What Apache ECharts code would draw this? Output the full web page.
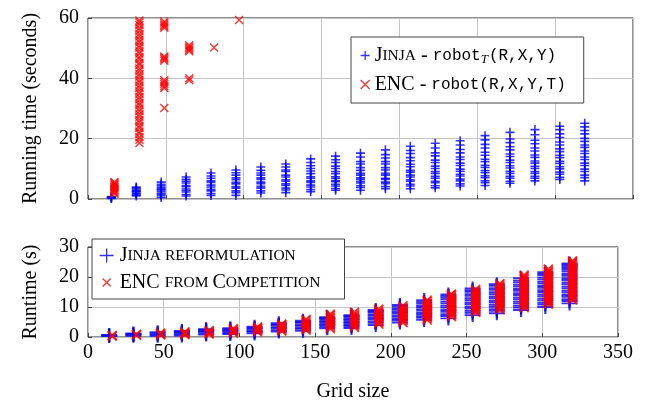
<!DOCTYPE html>
<html><head><meta charset="utf-8">
<script src="https://cdn.jsdelivr.net/npm/echarts@6/dist/echarts.min.js"></script>
<style>html,body{margin:0;padding:0;background:#fff}#c{width:649px;height:407px}</style>
</head><body><div id="c"></div>
<script>
// ---- data ----
const gridSizes = [16,32,48,64,80,96,112,128,144,160,176,192,208,224,240,256,272,288,304,320];
const xTicks = [0,50,100,150,200,250,300,350];
const topYTicks = [0,20,40,60];
const bottomYTicks = [0,10,20,30];

const topJinja = [
 [0.2,0.35,0.5,0.6,0.8],
 [1.0,1.3,1.7,2.0,2.4,2.6,2.9,3.3,3.7,4.0],
 [0.5,1.1,1.6,2.0,2.6,3.1,3.4,3.9,4.4,4.9,5.6],
 [1.0,1.5,2.3,2.8,3.3,4.1,4.5,5.3,5.9,6.5,7.3],
 [1.2,1.8,2.7,3.2,4.0,4.6,5.5,6.0,6.9,7.6,8.6],
 [1.2,2.1,2.7,3.6,4.1,5.0,5.5,6.4,7.0,7.9,8.7,9.6],
 [2.0,2.7,3.6,4.2,5.1,5.6,6.5,7.0,7.9,8.6,9.5,10.6],
 [2.1,3.0,3.6,4.5,5.0,5.9,6.4,7.3,7.9,9.1,9.6,10.6,11.6],
 [2.4,3.1,4.0,4.6,5.5,6.0,6.9,7.4,8.4,9.3,10.1,11.0,12.1,13.3],
 [2.9,3.5,4.3,4.9,5.7,6.1,6.9,7.4,8.4,9.1,10.1,10.9,12.1,13.0,14.2],
 [2.9,3.8,4.4,5.3,5.8,6.5,7.0,7.9,8.5,9.5,10.4,11.6,12.4,13.9,15.2],
 [3.4,4.1,5.1,5.6,6.5,6.9,7.9,8.5,9.6,10.4,11.6,12.4,13.6,14.7,16.3],
 [3.4,4.3,4.9,5.9,6.4,7.3,7.9,8.9,9.5,10.7,11.5,12.7,13.7,15.1,16.1,17.5],
 [3.7,4.4,5.4,5.9,6.9,7.5,8.5,9.1,10.1,10.9,12.1,12.9,14.3,15.3,16.9,18.5],
 [4.3,5.0,6.0,6.6,7.6,8.2,9.2,9.9,11.1,11.9,13.1,13.9,15.3,16.4,17.9,19.3],
 [4.5,5.4,6.0,7.1,7.7,8.7,9.4,10.5,11.2,12.4,13.2,14.5,15.5,16.9,18.1,19.6,21.0],
 [5.2,5.9,6.9,7.5,8.5,9.2,10.3,11.0,12.1,12.9,14.1,14.9,16.3,17.3,18.7,19.9,22.1],
 [6.0,6.9,7.5,8.5,9.1,10.1,10.8,11.9,12.6,13.8,14.6,15.9,16.9,18.3,19.5,21.3,23.0],
 [6.5,7.2,8.2,8.9,10.0,10.7,11.8,12.5,13.7,14.5,15.7,16.6,17.9,18.9,20.4,21.6,23.0,24.1],
 [6.0,7.1,7.9,9.1,9.9,11.1,11.9,13.1,13.9,15.1,15.9,17.1,17.9,19.1,20.1,21.6,22.7,23.9,25.1]
];
const topEnc = [
 [1.7,2.1,2.5,2.9,3.3,3.7,4.1,4.5,4.9,5.3,5.6],
 [18.6,19.6,20.5,21.6,22.4,23.5,24.3,25.4,26.2,27.3,28.1,29.2,30.0,31.1,31.9,33.0,33.8,34.9,35.7,36.8,37.6,38.7,39.5,40.6,41.4,42.5,43.3,44.4,45.2,46.3,47.1,48.2,49.0,50.1,50.9,52.0,52.8,53.9,54.7,55.8,56.6,57.7,58.5,59.2],
 [30.2,36.8,37.4,38.1,38.8,39.4,45.8,46.3,46.8,47.2,56.8,57.3,57.8,58.3,58.8],
 [39.4,40.0,49.0,49.5,50.0,50.5,51.0],
 [50.2],
 [59.3],
 [],[],[],[],[],[],[],[],[],[],[],[],[],[]
];
const bottomJinja = [
 [0.3,0.5,0.7],
 [0.4,0.7,1.0,1.2],
 [0.4,0.8,1.2,1.6],
 [0.5,0.9,1.4,1.7,2.0],
 [0.8,1.2,1.7,2.0,2.4,2.6],
 [1.0,1.4,1.9,2.2,2.6,2.9],
 [1.2,1.7,2.0,2.6,3.0,3.4],
 [1.8,2.3,2.9,3.3,3.9,4.2,4.6],
 [2.1,2.7,3.1,3.7,4.1,4.7,5.0,5.4],
 [2.9,3.4,4.0,4.4,5.0,5.4,6.0,6.3,6.6],
 [3.0,3.6,4.0,4.6,5.0,5.6,6.0,6.6,7.0,7.3],
 [4.0,4.7,5.2,5.9,6.4,7.1,7.6,8.3,8.6,9.0],
 [4.8,5.5,6.0,6.7,7.2,7.9,8.4,9.1,9.6,10.3,10.7],
 [5.7,6.4,6.9,7.6,8.1,8.8,9.3,10.0,10.5,11.2,11.7,12.3],
 [6.2,7.0,7.6,8.4,9.0,9.8,10.4,11.2,11.8,12.6,13.2,13.7,14.2],
 [7.3,8.1,8.7,9.5,10.1,10.9,11.5,12.3,12.9,13.7,14.3,15.1,15.6,16.2],
 [7.9,8.7,9.3,10.1,10.7,11.5,12.1,12.9,13.5,14.3,14.9,15.7,16.3,17.1,17.6],
 [9.0,9.8,10.4,11.2,11.8,12.6,13.2,14.0,14.6,15.4,16.0,16.8,17.4,18.2,18.8,19.6],
 [10.0,10.8,11.4,12.2,12.8,13.6,14.2,15.0,15.6,16.4,17.0,17.8,18.4,19.2,19.8,20.6,21.1,21.6],
 [11.2,12.0,12.6,13.4,14.0,14.8,15.4,16.2,16.8,17.6,18.2,19.0,19.6,20.4,21.0,21.8,22.4,23.0,23.6,24.1,24.5]
];
const bottomEnc = [
 [0.3,0.5],
 [0.6,0.9],
 [0.7,1.0,1.3],
 [0.8,1.1,1.4,1.7],
 [1.0,1.4,1.8,2.1],
 [1.4,1.8,2.3,2.8],
 [1.7,2.2,2.7,3.0,3.4],
 [2.0,2.5,3.0,3.5,4.0,4.3],
 [2.3,2.8,3.3,3.8,4.3,4.8,5.4,5.9],
 [2.8,3.3,3.9,4.4,5.0,5.5,6.1,6.6,7.2,7.6],
 [3.2,3.8,4.3,4.9,5.4,6.0,6.5,7.1,7.6,8.3],
 [4.3,4.9,5.4,6.0,6.5,7.1,7.6,8.2,8.7,9.3],
 [4.8,5.4,5.9,6.5,7.0,7.6,8.1,8.7,9.2,9.8,10.4],
 [5.7,6.3,6.8,7.4,7.9,8.5,9.0,9.6,10.1,10.7,11.2,11.8,12.3],
 [6.8,7.4,7.9,8.5,9.0,9.6,10.1,10.7,11.2,11.8,12.3,12.9,13.4,14.0,14.3],
 [8.2,8.8,9.3,9.9,10.4,11.0,11.5,12.1,12.6,13.2,13.7,14.3,14.8,15.4,15.9],
 [9.1,9.7,10.2,10.8,11.3,11.9,12.4,13.0,13.5,14.1,14.6,15.2,15.7,16.3,16.8,17.4,17.8],
 [9.8,10.4,10.9,11.5,12.0,12.6,13.1,13.7,14.2,14.8,15.3,15.9,16.4,17.0,17.5,18.1,18.6,19.2,19.7,20.2,20.6],
 [11.0,11.6,12.1,12.7,13.2,13.8,14.3,14.9,15.4,16.0,16.5,17.1,17.6,18.2,18.7,19.3,19.8,20.4,20.9,21.5,22.0,22.6],
 [12.4,13.0,13.5,14.1,14.6,15.2,15.7,16.3,16.8,17.4,17.9,18.5,19.0,19.6,20.1,20.7,21.2,21.8,22.3,22.9,23.4,24.0,24.5,25.0,25.4]
];

// ---- chart ----
const SERIF = '"Liberation Serif", "DejaVu Serif", serif';
const MONO = '"Liberation Mono", "DejaVu Sans Mono", monospace';
const PLUS = 'path://M0,5L10,5M5,0L5,10';
const CROSS = 'path://M0,0L10,10M10,0L0,10';
// legend icon for the cross in the wide bottom legend slot (padded bounding box)
const CROSS_PAD = 'path://M0,0L0,0M16,14L16,14M4,3L12,11M12,3L4,11';
const BLUE = '#0000ff', RED = '#ff0000';

function pts(cols, dx) {
  const out = [];
  cols.forEach((col, i) => col.forEach(v => out.push([gridSizes[i] + dx, v])));
  return out;
}

const axisTxt = { fontFamily: SERIF, fontSize: 20, color: '#000' };
const split = { show: true, lineStyle: { color: '#c4c4c4', width: 1 } };
const tick = { show: true, inside: true, length: 4, lineStyle: { color: '#444' } };

const rich = {
  big: { fontFamily: SERIF, fontSize: 20, color: '#000' },
  sc: { fontFamily: SERIF, fontSize: 15.5, color: '#000' },
  tt: { fontFamily: MONO, fontSize: 16, color: '#000' },
  sub: { fontFamily: SERIF, fontSize: 13, fontStyle: 'italic', color: '#000', padding: [8, 1, 0, 0] }
};

const labels = {
  'topJ': '{big|J}{sc|INJA}{big| - }{tt|robot}{sub|T}{tt|(R,X,Y)}',
  'topE': '{big|ENC - }{tt|robot(R,X,Y,T)}',
  'botJ': '{big|J}{sc|INJA REFORMULATION}',
  'botE': '{big|ENC }{sc|FROM }{big|C}{sc|OMPETITION}'
};

const chart = echarts.init(document.getElementById('c'), null, { renderer: 'canvas' });
chart.setOption({
  animation: false,
  backgroundColor: '#fff',
  grid: [
    { left: 88, top: 18, width: 545, height: 181, show: true, borderColor: '#222', borderWidth: 1, backgroundColor: 'transparent' },
    { left: 88, top: 247, width: 530, height: 90, show: true, borderColor: '#222', borderWidth: 1, backgroundColor: 'transparent' }
  ],
  xAxis: [
    { gridIndex: 0, type: 'value', min: xTicks[0], max: xTicks[xTicks.length-1], interval: 50,
      axisLine: { show: false }, axisTick: tick, axisLabel: { show: false }, splitLine: split },
    { gridIndex: 1, type: 'value', min: xTicks[0], max: xTicks[xTicks.length-1], interval: 50,
      axisLine: { show: false }, axisTick: tick, axisLabel: Object.assign({ margin: 6 }, axisTxt), splitLine: split,
      name: 'Grid size', nameLocation: 'middle', nameGap: 45, nameTextStyle: axisTxt }
  ],
  yAxis: [
    { gridIndex: 0, type: 'value', min: topYTicks[0], max: topYTicks[topYTicks.length-1], interval: 20,
      axisLine: { show: false }, axisTick: tick, axisLabel: Object.assign({ margin: 9 }, axisTxt), splitLine: split,
      name: 'Running time (seconds)', nameLocation: 'middle', nameGap: 47, nameTextStyle: axisTxt },
    { gridIndex: 1, type: 'value', min: bottomYTicks[0], max: bottomYTicks[bottomYTicks.length-1], interval: 10,
      axisLine: { show: false }, axisTick: tick, axisLabel: Object.assign({ margin: 9 }, axisTxt), splitLine: split,
      name: 'Runtime (s)', nameLocation: 'middle', nameGap: 47, nameTextStyle: axisTxt }
  ],
  legend: [
    { data: [{ name: 'topJ', icon: PLUS, itemStyle: { color: 'rgba(0,0,0,0)', borderColor: BLUE, borderWidth: 1.3 } },
             { name: 'topE', icon: CROSS, itemStyle: { color: 'rgba(0,0,0,0)', borderColor: RED, borderWidth: 1.3 } }],
      orient: 'vertical', left: 351, top: 37, padding: [8, 18, 8, 9], itemGap: 8,
      itemWidth: 9, itemHeight: 9, backgroundColor: '#fff', borderColor: '#444', borderWidth: 1,
      formatter: n => labels[n], textStyle: { rich: rich, lineHeight: 21 } },
    { data: [{ name: 'botJ', icon: PLUS, itemStyle: { color: 'rgba(0,0,0,0)', borderColor: BLUE, borderWidth: 1.3 } },
             { name: 'botE', icon: CROSS_PAD, itemStyle: { color: 'rgba(0,0,0,0)', borderColor: RED, borderWidth: 1.3 } }],
      orient: 'vertical', left: 92, top: 239, padding: [6, 24, 6, 6], itemGap: 6,
      itemWidth: 16, itemHeight: 14, backgroundColor: '#fff', borderColor: '#444', borderWidth: 1,
      formatter: n => labels[n], textStyle: { rich: rich, lineHeight: 21 } }
  ],
  series: [
    { name: 'topJ', type: 'scatter', xAxisIndex: 0, yAxisIndex: 0, data: pts(topJinja, -1),
      symbol: PLUS, symbolSize: 9, itemStyle: { color: 'rgba(0,0,0,0)', borderColor: BLUE, borderWidth: 1.6 } },
    { name: 'topE', type: 'scatter', xAxisIndex: 0, yAxisIndex: 0, data: pts(topEnc, 1),
      symbol: CROSS, symbolSize: 8, itemStyle: { color: 'rgba(0,0,0,0)', borderColor: RED, borderWidth: 1.4 } },
    { name: 'botJ', type: 'scatter', xAxisIndex: 1, yAxisIndex: 1, data: pts(bottomJinja, -2),
      symbol: PLUS, symbolSize: [16, 14], itemStyle: { color: 'rgba(0,0,0,0)', borderColor: BLUE, borderWidth: 2 } },
    { name: 'botE', type: 'scatter', xAxisIndex: 1, yAxisIndex: 1, data: pts(bottomEnc, 0),
      symbol: CROSS, symbolSize: 9, itemStyle: { color: 'rgba(0,0,0,0)', borderColor: RED, borderWidth: 1.8 } }
  ]
});
</script>
</body></html>
